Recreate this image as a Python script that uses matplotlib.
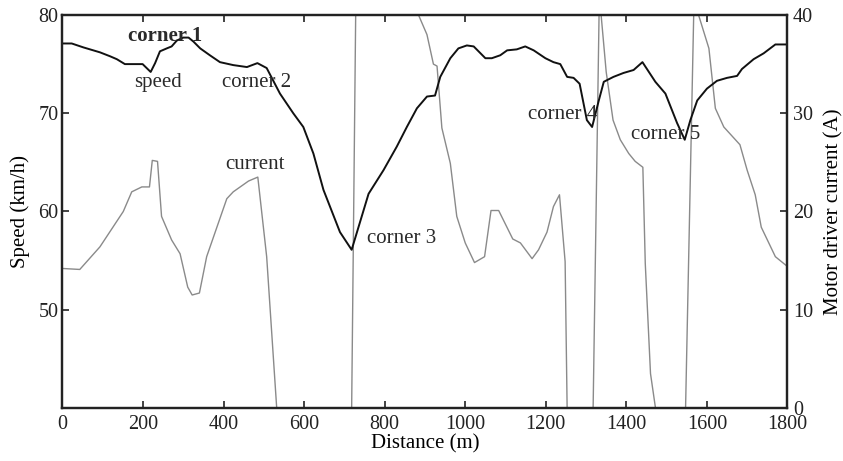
import matplotlib
matplotlib.use("Agg")
import matplotlib.pyplot as plt

plt.rcParams['font.family'] = ['Liberation Serif', 'DejaVu Serif']

# speed trace along the lap (distance in m, speed in km/h)
dist_speed = [0, 23, 52, 93, 118, 135, 155, 199, 219, 230,
              242, 259, 271, 284, 300, 313, 325, 342, 366, 391,
              424, 458, 484, 507, 540, 573, 598, 623, 648, 689,
              718, 760, 797, 830, 855, 880, 905, 925, 938, 963,
              983, 1004, 1021, 1050, 1066, 1087, 1104, 1128, 1149, 1170,
              1199, 1219, 1236, 1253, 1269, 1284, 1302, 1315, 1331, 1344,
              1368, 1393, 1418, 1440, 1472, 1497, 1526, 1545, 1559, 1576,
              1600, 1625, 1650, 1675, 1687, 1716, 1741, 1770, 1800]
speed = [77.1, 77.1, 76.7, 76.2, 75.8, 75.5, 75.0, 75.0, 74.2, 75.1,
         76.3, 76.6, 76.8, 77.4, 77.7, 77.7, 77.3, 76.6, 75.9, 75.2,
         74.9, 74.7, 75.1, 74.6, 72.0, 70.0, 68.6, 65.9, 62.2, 57.9,
         56.1, 61.8, 64.2, 66.6, 68.6, 70.5, 71.7, 71.8, 73.7, 75.6,
         76.6, 76.9, 76.8, 75.6, 75.6, 75.9, 76.4, 76.5, 76.8, 76.4,
         75.6, 75.2, 75.0, 73.7, 73.6, 73.0, 69.3, 68.6, 71.2, 73.2,
         73.7, 74.1, 74.4, 75.2, 73.2, 72.0, 69.0, 67.3, 69.3, 71.3,
         72.5, 73.3, 73.6, 73.8, 74.5, 75.5, 76.1, 77.0, 77.0]

# motor driver current (A)
dist_current = [0, 43, 93, 151, 172, 197, 216, 223, 236, 246,
                271, 292, 311, 322, 340, 358, 408, 424, 462, 485,
                507, 540, 620, 700, 715, 735, 884, 905, 921, 930,
                942, 963, 979, 1000, 1023, 1048, 1064, 1083, 1118, 1137,
                1166, 1182, 1203, 1219, 1234, 1248, 1256, 1290, 1312, 1333,
                1350, 1367, 1385, 1406, 1422, 1441, 1447, 1460, 1490, 1540,
                1568, 1605, 1621, 1642, 1682, 1700, 1720, 1735, 1770, 1800]
current = [14.2, 14.1, 16.4, 20.0, 22.0, 22.5, 22.5, 25.2, 25.1, 19.5,
           17.1, 15.7, 12.3, 11.5, 11.7, 15.4, 21.3, 22.0, 23.1, 23.5,
           15.4, -5, -10, -12, -12, 68, 40, 38.0, 35.0, 34.8,
           28.5, 24.9, 19.5, 16.8, 14.8, 15.4, 20.1, 20.1, 17.2, 16.8,
           15.2, 16.1, 17.9, 20.5, 21.7, 14.9, -9, -12, -15, 42,
           34.2, 29.3, 27.3, 25.9, 25.1, 24.5, 14.7, 3.5, -5, -14,
           41.5, 36.6, 30.5, 28.6, 26.8, 24.2, 21.7, 18.4, 15.4, 14.4]

# text labels: (text, distance, speed)
labels = [("corner 1", 255, 77.9), ("speed", 237, 73.1), ("corner 2", 481, 73.1),
          ("current", 478, 64.8), ("corner 3", 841, 57.3), ("corner 4", 1241, 69.9),
          ("corner 5", 1497, 67.8)]

fs = 15
tfs = 14.5
fig = plt.figure(figsize=(8.43, 4.61), dpi=100)
ax = fig.add_axes([0.0741, 0.115, 0.8600, 0.8525])
ax2 = ax.twinx()

ax2.plot(dist_current, current, color='#8a8a8a', lw=1.0)
ax.plot(dist_speed, speed, color='#111111', lw=1.4)
ax.set_zorder(ax2.get_zorder() + 1)
ax.patch.set_visible(False)

for txt, x, y in labels:
    ax.text(x, y, txt, ha='center', va='center', fontsize=fs, color='#2a2a2a',
            fontweight='bold' if txt == "corner 1" else 'normal')

ax.set_xlim(0, 1800)
ax.set_ylim(40, 80)
ax2.set_ylim(0, 40)
ax.set_xticks(range(0, 1801, 200))
ax.set_yticks([50, 60, 70, 80])
ax2.set_yticks([0, 10, 20, 30, 40])

ax.set_xlabel("Distance (m)", fontsize=fs, labelpad=0)
ax.set_ylabel("Speed (km/h)", fontsize=fs, labelpad=6)
ax2.set_ylabel("Motor driver current (A)", fontsize=fs, labelpad=8)

ax.tick_params(axis='x', direction='in', top=True, length=5, width=1.2, labelsize=tfs, pad=5, colors='#222222')
ax.tick_params(axis='y', direction='in', length=5, width=1.2, labelsize=tfs, pad=3, colors='#222222')
ax2.tick_params(axis='y', direction='in', length=5, width=1.2, labelsize=tfs, pad=4, colors='#222222')

for a in (ax, ax2):
    for s in a.spines.values():
        s.set_linewidth(1.6)
        s.set_color('#222222')

fig.savefig("out.png", dpi=100)
